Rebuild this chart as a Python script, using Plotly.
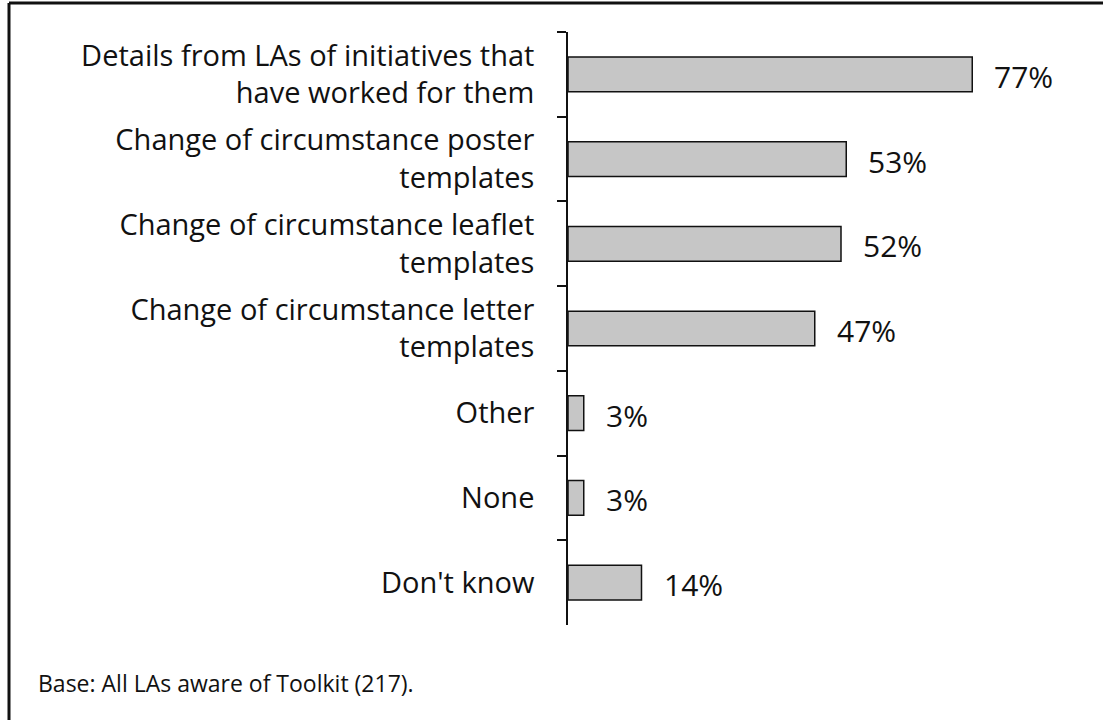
import plotly.graph_objects as go

categories = [
    "Details from LAs of initiatives that<br>have worked for them",
    "Change of circumstance poster<br>templates",
    "Change of circumstance leaflet<br>templates",
    "Change of circumstance letter<br>templates",
    "Other",
    "None",
    "Don't know",
]
values = [77, 53, 52, 47, 3, 3, 14]
value_labels = ["77%", "53%", "52%", "47%", "3%", "3%", "14%"]
footnote = "Base: All LAs aware of Toolkit (217)."

FONT = "Open Sans"
L, R, T, B = 568, 10, 32, 95
W, H = 1103, 720
pw, ph = W - L - R, H - T - B

fig = go.Figure()
fig.add_trace(go.Bar(
    x=values, y=categories, orientation="h", width=0.41,
    marker=dict(color="#c6c6c6", line=dict(color="#111111", width=1.5)),
    hoverinfo="skip",
))

for v, c, t in zip(values, categories, value_labels):
    fig.add_annotation(x=v, y=c, text=t, xanchor="left", yanchor="middle",
                       xshift=20, yshift=-2, showarrow=False,
                       font=dict(family=FONT, size=30, color="#111111"))

fig.add_annotation(xref="paper", yref="paper", x=(36 - L) / pw, y=(H - B - 683) / ph,
                   text=footnote, xanchor="left", yanchor="middle", showarrow=False,
                   font=dict(family=FONT, size=23, color="#111111"))

# frame lines (top and left)
fig.add_shape(type="line", xref="paper", yref="paper",
              x0=(9 - L) / pw, x1=(W - L) / pw, y0=(H - B - 3) / ph, y1=(H - B - 3) / ph,
              line=dict(color="#111111", width=3))
fig.add_shape(type="line", xref="paper", yref="paper",
              x0=(9 - L) / pw, x1=(9 - L) / pw, y0=(H - B - 3) / ph, y1=(H - B - H) / ph,
              line=dict(color="#111111", width=3))

fig.update_layout(
    width=W, height=H,
    margin=dict(l=L, r=R, t=T, b=B, autoexpand=False),
    plot_bgcolor="white", paper_bgcolor="white",
    showlegend=False,
    font=dict(family=FONT, size=29, color="#111111"),
)
fig.update_xaxes(range=[0, 100], visible=False, fixedrange=True)
fig.update_yaxes(
    autorange="reversed", type="category", tickson="boundaries",
    showline=True, linecolor="#111111", linewidth=1.5,
    ticks="outside", ticklen=9, tickcolor="#111111", tickwidth=1.5,
    showgrid=False, zeroline=False, ticklabelstandoff=26, fixedrange=True,
    tickfont=dict(family=FONT, size=29, color="#111111"),
)

fig.write_html("out.html", config={"displayModeBar": False},
               post_script="document.body.style.margin='0';document.body.style.overflow='hidden';")
